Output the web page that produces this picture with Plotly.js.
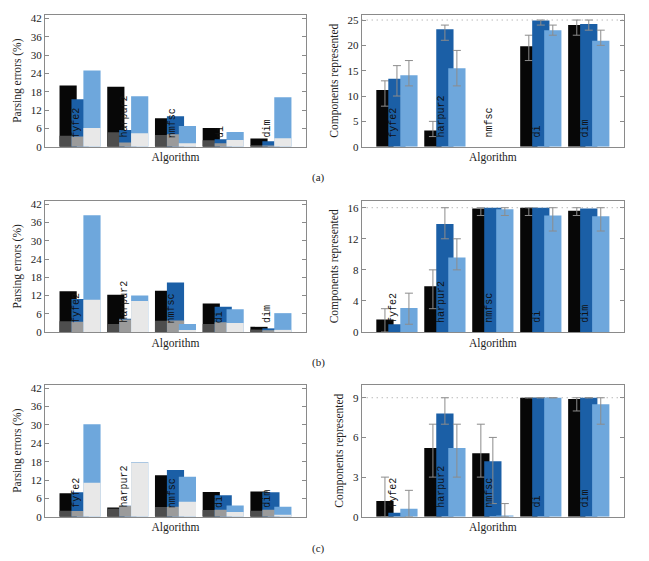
<!DOCTYPE html>
<html>
<head>
<meta charset="utf-8">
<script src="https://cdn.plot.ly/plotly-3.0.1.min.js"></script>
<style>html,body{margin:0;padding:0;background:#fff;}#chart{width:649px;height:561px;}</style>
</head>
<body>
<div id="chart"></div>
<script>
const algorithms = ['fyfe2', 'harpur2', 'nmfsc', 'di', 'dim'];
const xIndex = [0, 1, 2, 3, 4];

// Parsing errors (%) — total bar and lower (stacked) part
const errA_black = [20.0, 19.6, 9.3, 6.1, 2.7];
const errA_blackLow = [3.6, 4.7, 3.8, 2.1, 0.5];
const errA_blue = [15.5, 5.5, 10.0, 2.4, 1.8];
const errA_blueLow = [3.3, 1.4, 4.1, 1.1, 0.4];
const errA_light = [24.9, 16.5, 6.8, 4.8, 16.2];
const errA_lightLow = [6.1, 4.4, 1.1, 2.2, 2.8];

const errB_black = [13.4, 12.3, 13.6, 9.4, 1.7];
const errB_blackLow = [3.5, 2.6, 3.7, 2.6, 0.8];
const errB_blue = [10.9, 4.4, 16.3, 8.3, 1.2];
const errB_blueLow = [3.4, 4.1, 3.8, 3.2, 0.6];
const errB_light = [38.4, 12.0, 2.6, 7.5, 6.2];
const errB_lightLow = [10.6, 10.2, 0.7, 3.0, 0.7];

const errC_black = [7.7, 3.0, 13.6, 8.1, 8.3];
const errC_blackLow = [2.0, 2.6, 3.2, 2.2, 2.0];
const errC_blue = [8.0, 3.6, 15.3, 7.0, 8.0];
const errC_blueLow = [1.9, 3.5, 3.3, 2.3, 2.3];
const errC_light = [30.2, 17.9, 13.1, 3.7, 3.3];
const errC_lightLow = [11.1, 17.7, 4.9, 1.6, 0.7];

// Components represented — mean with low/high bounds
const compA_black = [11.2, 3.2, 0, 19.8, 24.0];
const compA_blackLo = [8, 2, null, 17, 22];
const compA_blackHi = [13, 5, null, 22, 25];
const compA_blue = [13.4, 23.2, 0, 24.9, 24.2];
const compA_blueLo = [10, 21, null, 24, 23];
const compA_blueHi = [16, 24, null, 25, 25];
const compA_light = [14.1, 15.5, 0, 23.0, 20.9];
const compA_lightLo = [12, 12, null, 22, 20];
const compA_lightHi = [17, 19, null, 24, 23];

const compB_black = [1.6, 5.9, 15.9, 16.0, 15.6];
const compB_blackLo = [0, 3, 15, 15, 15];
const compB_blackHi = [3, 8, 16, 16, 16];
const compB_blue = [1.0, 13.9, 16.0, 16.0, 15.9];
const compB_blueLo = [null, 12, null, null, null];
const compB_blueHi = [null, 16, null, null, null];
const compB_light = [3.1, 9.6, 15.8, 15.0, 14.9];
const compB_lightLo = [1, 8, 15, 13, 13];
const compB_lightHi = [5, 12, 16, 16, 16];

const compC_black = [1.2, 5.2, 4.8, 9.0, 8.9];
const compC_blackLo = [0, 3, 3, 9, 8];
const compC_blackHi = [3, 7, 7, 9, 9];
const compC_blue = [0.3, 7.8, 4.2, 9.0, 9.0];
const compC_blueLo = [null, 7, 1, 9, 9];
const compC_blueHi = [null, 9, 6, 9, 9];
const compC_light = [0.6, 5.2, 0.1, 9.0, 8.5];
const compC_lightLo = [0, 3, 0, 9, 7];
const compC_lightHi = [2, 7, 1, 9, 9];

const maxComponents = [25, 16, 9];
const panelLabels = ['(a)', '(b)', '(c)'];

const C = {
  black: '#070707', blue: '#1b5fa6', light: '#6ea7dc',
  blackLow: '#4d4d4d', blueLow: '#9b9b9b', lightLow: '#e8e8e8',
  axis: '#8a8a8a'
};
const W = 0.36;
const OFF = [-0.43, -0.18, 0.07];

const traces = [];
function bar(y, color, off, xa, ya, err) {
  const t = {
    type: 'bar', x: xIndex, y: y, width: W, offset: off,
    marker: {color: color, line: {width: 0}},
    xaxis: xa, yaxis: ya, showlegend: false, hoverinfo: 'y'
  };
  if (err) {
    t.error_y = {
      type: 'data', symmetric: false,
      array: err.hi.map((h, i) => h === null ? NaN : h - y[i]),
      arrayminus: err.lo.map((l, i) => l === null ? NaN : y[i] - l),
      color: '#8c8c8c', thickness: 1, width: 4
    };
  }
  return t;
}

const leftSets = [
  [errA_black, errA_blackLow, errA_blue, errA_blueLow, errA_light, errA_lightLow],
  [errB_black, errB_blackLow, errB_blue, errB_blueLow, errB_light, errB_lightLow],
  [errC_black, errC_blackLow, errC_blue, errC_blueLow, errC_light, errC_lightLow]
];
const rightSets = [
  [[compA_black, compA_blackLo, compA_blackHi], [compA_blue, compA_blueLo, compA_blueHi], [compA_light, compA_lightLo, compA_lightHi]],
  [[compB_black, compB_blackLo, compB_blackHi], [compB_blue, compB_blueLo, compB_blueHi], [compB_light, compB_lightLo, compB_lightHi]],
  [[compC_black, compC_blackLo, compC_blackHi], [compC_blue, compC_blueLo, compC_blueHi], [compC_light, compC_lightLo, compC_lightHi]]
];

for (let p = 0; p < 3; p++) {
  const lx = 'x' + (2 * p + 1), ly = 'y' + (2 * p + 1);
  const rx = 'x' + (2 * p + 2), ry = 'y' + (2 * p + 2);
  const L = leftSets[p];
  traces.push(bar(L[0], C.black, OFF[0], lx, ly));
  traces.push(bar(L[1], C.blackLow, OFF[0], lx, ly));
  traces.push(bar(L[2], C.blue, OFF[1], lx, ly));
  traces.push(bar(L[3], C.blueLow, OFF[1], lx, ly));
  traces.push(bar(L[4], C.light, OFF[2], lx, ly));
  traces.push(bar(L[5], C.lightLow, OFF[2], lx, ly));
  const R = rightSets[p];
  const cols = [C.black, C.blue, C.light];
  for (let s = 0; s < 3; s++) {
    traces.push(bar(R[s][0], cols[s], OFF[s], rx, ry, {lo: R[s][1], hi: R[s][2]}));
  }
}

const fontSerif = 'Liberation Serif, Times New Roman, serif';
const fontMono = 'Liberation Mono, Courier New, monospace';
const ydomains = [[0.7385, 0.9738], [0.4082, 0.6422], [0.0788, 0.3146]];
const xdomL = [0.0693, 0.4715], xdomR = [0.5573, 0.9615];
const rightRanges = [26.05, 16.9, 10.0];
const rightDticks = [5, 4, 3];

const layout = {
  width: 649, height: 561,
  margin: {l: 0, r: 0, t: 0, b: 0},
  paper_bgcolor: '#fff', plot_bgcolor: '#fff',
  barmode: 'overlay',
  font: {family: fontSerif, size: 11, color: '#222'},
  annotations: [], shapes: []
};

function xaxisDef(dom, yref) {
  return {
    domain: dom, anchor: yref, range: [-0.735, 4.735],
    showticklabels: false, ticks: '', showgrid: false, zeroline: false,
    showline: true, linecolor: C.axis, linewidth: 1, mirror: true,
    title: {text: 'Algorithm', font: {family: fontSerif, size: 11.5, color: '#222'}, standoff: 6}
  };
}
function yaxisDef(dom, xref, range, dtick, title) {
  return {
    domain: dom, anchor: xref, range: [0, range], dtick: dtick, tick0: 0,
    ticks: 'inside', ticklen: 4, tickcolor: C.axis, showgrid: false, zeroline: false,
    showline: true, linecolor: C.axis, linewidth: 1, mirror: 'ticks',
    tickfont: {family: fontSerif, size: 11, color: '#222'},
    title: {text: title, font: {family: fontSerif, size: 11.5, color: '#222'}, standoff: 6}
  };
}

for (let p = 0; p < 3; p++) {
  const li = 2 * p + 1, ri = 2 * p + 2;
  layout['xaxis' + li] = xaxisDef(xdomL, 'y' + li);
  layout['xaxis' + ri] = xaxisDef(xdomR, 'y' + ri);
  layout['yaxis' + li] = yaxisDef(ydomains[p], 'x' + li, 43.2, 6, 'Parsing errors (%)');
  layout['yaxis' + ri] = yaxisDef(ydomains[p], 'x' + ri, rightRanges[p], rightDticks[p], 'Components represented');

  layout.shapes.push({
    type: 'line', xref: 'x' + ri + ' domain', yref: 'y' + ri,
    x0: 0, x1: 1, y0: maxComponents[p], y1: maxComponents[p],
    line: {color: '#999', width: 1, dash: '1px,4px'}
  });

  for (const idx of [li, ri]) {
    algorithms.forEach((name, i) => {
      layout.annotations.push({
        xref: 'x' + idx, yref: 'y' + idx, x: xIndex[i], y: 0,
        text: name, textangle: -90, showarrow: false,
        xanchor: 'center', yanchor: 'bottom', xshift: -3, yshift: 7,
        font: {family: fontMono, size: 10, color: '#111'}
      });
    });
  }

  layout.annotations.push({
    xref: 'paper', yref: 'paper', x: 318 / 649, y: 1 - [178, 362, 548][p] / 561,
    text: panelLabels[p], showarrow: false, xanchor: 'center', yanchor: 'middle',
    font: {family: fontSerif, size: 11, color: '#222'}
  });
}

Plotly.newPlot('chart', traces, layout, {staticPlot: true, displayModeBar: false});
</script>
</body>
</html>
